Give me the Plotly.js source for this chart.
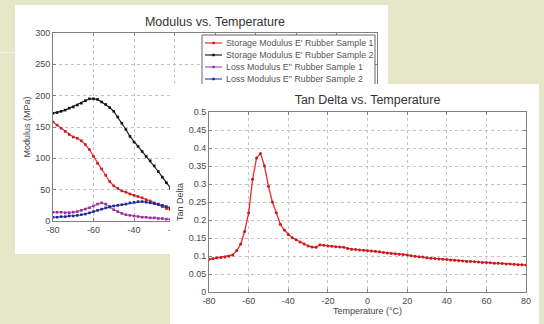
<!DOCTYPE html>
<html>
<head>
<meta charset="utf-8">
<script src="https://cdn.plot.ly/plotly-3.0.1.min.js"></script>
<style>
html,body{margin:0;padding:0;}
body{width:544px;height:324px;background:#e6e6c9;position:relative;overflow:hidden;}
#p1{position:absolute;left:15px;top:5px;width:373px;height:249px;}
#p2{position:absolute;left:170px;top:84px;width:369px;height:240px;}
#ln{position:absolute;left:0;top:52px;width:15px;height:1px;background:#f3f3e4;}
</style>
</head>
<body>
<div id="ln"></div>
<div id="p1"></div>
<div id="p2"></div>
<script>
// ---------- tick labels (MATLAB style, hyphen minus) ----------
var tempTicks = [-80,-60,-40,-20,0,20,40,60,80];
var tempTickLabels = ["-80","-60","-40","-20","0","20","40","60","80"];
var modTicks = [0,50,100,150,200,250,300];
var modTickLabels = ["0","50","100","150","200","250","300"];
var tanTicks = [0,0.05,0.1,0.15,0.2,0.25,0.3,0.35,0.4,0.45,0.5];
var tanTickLabels = ["0","0.05","0.1","0.15","0.2","0.25","0.3","0.35","0.4","0.45","0.5"];

// ---------- Modulus vs. Temperature ----------
var modTemp = [-80,-78,-76,-74,-72,-70,-68,-66,-64,-62,-60,-58,-56,-54,-52,-50,-48,-46,-44,-42,-40,-38,-36,-34,-32,-30,-28,-26,-24,-22,-20];
var storage1 = [158,153,148,143,138,134,132,128,122,114,103,92,83,73,63,56,52,48,46,43,41,39,37,34,32,29,26,23,20,18,15];
var storage2 = [172,173,175,177,180,182,185,188,192,195,195,194,190,186,181,175,166,156,146,135,126,119,111,103,96,88,79,70,61,52,44];
var loss1 = [14,14,14,13,13,14,15,17,19,21,24,27,29,27,22,18,15,12,10,9,8,7,6,6,5,5,4,4,3,3,3];
var loss2 = [6,6,7,7,8,8,9,10,11,13,15,17,19,21,23,24,25,26,27,29,30,31,31,30,29,28,27,25,23,21,19];
var modNames = ["Storage Modulus E' Rubber Sample 1","Storage Modulus E' Rubber Sample 2","Loss Modulus E'' Rubber Sample 1","Loss Modulus E'' Rubber Sample 2"];
var modColors = ["#e4312f","#1e1e1e","#c04cc0","#3a44c4"];
var modMarkerColors = ["#c41e1e","#111111","#9a2c9a","#22288e"];
var modSeries = [storage1, storage2, loss1, loss2];

// ---------- Tan Delta vs. Temperature ----------
var tanTemp = [-80,-78,-76,-74,-72,-70,-68,-66,-64,-62,-60,-58,-56,-54,-52,-50,-48,-46,-44,-42,-40,-38,-36,-34,-32,-30,-28,-26,-24,-22,-20,-18,-16,-14,-12,-10,-8,-6,-4,-2,0,2,4,6,8,10,12,14,16,18,20,22,24,26,28,30,32,34,36,38,40,42,44,46,48,50,52,54,56,58,60,62,64,66,68,70,72,74,76,78,80];
var tanDelta = [0.091,0.093,0.095,0.096,0.097,0.099,0.103,0.115,0.133,0.168,0.22,0.313,0.372,0.385,0.35,0.294,0.25,0.22,0.188,0.172,0.16,0.151,0.145,0.139,0.133,0.128,0.125,0.124,0.131,0.13,0.128,0.127,0.126,0.125,0.124,0.121,0.119,0.118,0.117,0.116,0.115,0.114,0.113,0.112,0.110,0.108,0.107,0.106,0.105,0.104,0.103,0.101,0.099,0.098,0.097,0.095,0.094,0.093,0.092,0.091,0.090,0.089,0.088,0.087,0.086,0.085,0.085,0.084,0.083,0.082,0.082,0.081,0.080,0.080,0.079,0.078,0.078,0.077,0.076,0.076,0.075];

var FONT = "Liberation Sans, Arial, sans-serif";
function axisStyle(extra){
  var a = {
    showgrid:true, gridcolor:"#c4c4c4", griddash:"dot", gridwidth:1,
    showline:true, linecolor:"#808080", linewidth:1, mirror:"ticks",
    ticks:"inside", ticklen:3, tickcolor:"#808080",
    tickfont:{family:FONT, size:9, color:"#484848"},
    tickmode:"array",
    zeroline:false, fixedrange:true
  };
  for (var k in extra) a[k] = extra[k];
  return a;
}

// Panel 1
var m1 = {l:38, r:11, t:28, b:33};
var W1 = 373, H1 = 249;
var pw1 = W1 - m1.l - m1.r, ph1 = H1 - m1.t - m1.b;
function px1(sx){ return (sx - 15 - m1.l) / pw1; }
function py1(sy){ return (H1 - m1.b - (sy - 5)) / ph1; }

var traces1 = modSeries.map(function(s, i){
  return {x: modTemp, y: s, type:"scatter", mode:"lines+markers", name: modNames[i],
    line:{color: modColors[i], width:1.2},
    marker:{color: modMarkerColors[i], size:2.6, symbol:"square"},
    showlegend:false, hoverinfo:"skip"};
});

var shapes1 = [{type:"rect", xref:"paper", yref:"paper", x0:px1(202), x1:px1(375), y0:py1(100), y1:py1(35),
  line:{color:"#666", width:1}, fillcolor:"#ffffff", layer:"above"}];
var annots1 = [];
var rowY = [43, 55, 67, 79];
modNames.forEach(function(n, i){
  shapes1.push({type:"line", xref:"paper", yref:"paper", x0:px1(205), x1:px1(222), y0:py1(rowY[i]), y1:py1(rowY[i]),
    line:{color: modColors[i], width:1.2}, layer:"above"});
  shapes1.push({type:"rect", xref:"paper", yref:"paper", x0:px1(212.3), x1:px1(214.7), y0:py1(rowY[i]+1.2), y1:py1(rowY[i]-1.2),
    line:{width:0}, fillcolor: modMarkerColors[i], layer:"above"});
  annots1.push({xref:"paper", yref:"paper", x:px1(224), y:py1(rowY[i]), xanchor:"left", yanchor:"middle",
    text:n, showarrow:false, font:{family:FONT, size:8.8, color:"#555"}});
});

var layout1 = {
  width:W1, height:H1, margin:m1, paper_bgcolor:"#ffffff", plot_bgcolor:"#ffffff",
  title:{text:"Modulus vs. Temperature", font:{family:FONT, size:12.5, color:"#333"}, x:(m1.l + pw1/2)/W1, xanchor:"center", xref:"container", y:1-17/H1, yanchor:"middle", yref:"container"},
  xaxis: axisStyle({range:[-80,80], tickvals:tempTicks, ticktext:tempTickLabels}),
  yaxis: axisStyle({range:[0,300], tickvals:modTicks, ticktext:modTickLabels, title:{text:"Modulus (MPa)", font:{family:FONT, size:9, color:"#444"}, standoff:3}}),
  shapes: shapes1, annotations: annots1, showlegend:false
};
Plotly.newPlot("p1", traces1, layout1, {staticPlot:true, displayModeBar:false});

// Panel 2
var m2 = {l:39, r:13, t:28, b:32};
var W2 = 369, H2 = 240;
var pw2 = W2 - m2.l - m2.r;
var traces2 = [{x: tanTemp, y: tanDelta, type:"scatter", mode:"lines+markers", name:"Tan Delta",
  line:{color:"#ec2a2c", width:1.3}, marker:{color:"#c81a1e", size:3}, hoverinfo:"skip"}];
var layout2 = {
  width:W2, height:H2, margin:m2, paper_bgcolor:"#ffffff", plot_bgcolor:"#ffffff",
  title:{text:"Tan Delta vs. Temperature", font:{family:FONT, size:12.5, color:"#333"}, x:(m2.l + pw2/2)/W2, xanchor:"center", xref:"container", y:1-16/H2, yanchor:"middle", yref:"container"},
  xaxis: axisStyle({range:[-80,80], tickvals:tempTicks, ticktext:tempTickLabels, title:{text:"Temperature (°C)", font:{family:FONT, size:9, color:"#444"}, standoff:2}}),
  yaxis: axisStyle({range:[0,0.5], tickvals:tanTicks, ticktext:tanTickLabels, title:{text:"Tan Delta", font:{family:FONT, size:9, color:"#444"}, standoff:3}}),
  showlegend:false
};
Plotly.newPlot("p2", traces2, layout2, {staticPlot:true, displayModeBar:false});
</script>
</body>
</html>
